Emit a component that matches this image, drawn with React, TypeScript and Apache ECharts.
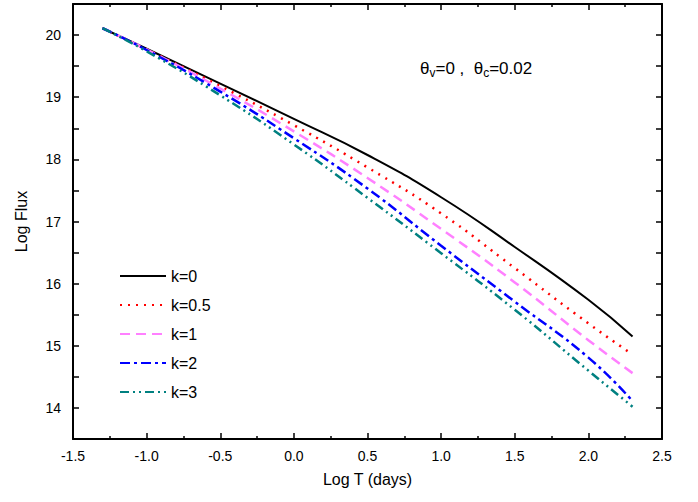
import { useEffect, useRef } from "react";
import * as echarts from "echarts";

const logT = [-1.3, -1.0, -0.5, 0.0, 0.5, 1.0, 1.5, 2.0, 2.3];
const fluxK0 = [20.11, 19.78, 19.22, 18.65, 18.07, 17.39, 16.59, 15.74, 15.15];
const fluxK05 = [20.11, 19.77, 19.18, 18.55, 17.87, 17.13, 16.25, 15.36, 14.86];
const fluxK1 = [20.11, 19.77, 19.14, 18.45, 17.70, 16.88, 16.02, 15.09, 14.56];
const fluxK2 = [20.11, 19.76, 19.09, 18.34, 17.53, 16.61, 15.71, 14.81, 14.11];
const fluxK3 = [20.11, 19.74, 19.03, 18.24, 17.38, 16.49, 15.58, 14.60, 14.02];

const names = ["k=0", "k=0.5", "k=1", "k=2", "k=3"];
const colors = ["#000000", "#ff0000", "#ff80ff", "#0000ff", "#008080"];
const dashes: (string | number[])[] = ["solid", [2, 6], [10, 6], [10, 4, 3, 4], [9, 4, 2, 4, 2, 4]];
const allFlux = [fluxK0, fluxK05, fluxK1, fluxK2, fluxK3];

export default function App() {
  const ref = useRef<HTMLDivElement>(null);
  useEffect(() => {
    if (!ref.current) return;
    document.body.style.margin = "0";
    const chart = echarts.init(ref.current, null, { renderer: "svg" });
    const font = "Arial, 'Liberation Sans', sans-serif";
    const axisBase = {
      axisLine: { onZero: false, lineStyle: { color: "#000", width: 2 } },
      axisTick: { inside: true, length: 6, lineStyle: { color: "#000", width: 1.5 } },
      splitLine: { show: false },
    };
    const xMinor = { show: true, splitNumber: 2, length: 3, lineStyle: { color: "#000", width: 1.5 } };
    chart.setOption({
      animation: false,
      grid: { left: 73, right: 36, top: 4, bottom: 63 },
      xAxis: [
        {
          ...axisBase, type: "value", min: -1.5, max: 2.5, interval: 0.5, minorTick: xMinor,
          axisLabel: { color: "#000", fontSize: 14, fontFamily: font, margin: 10, formatter: (v: number) => v.toFixed(1) },
          name: "Log T (days)", nameLocation: "middle", nameGap: 32,
          nameTextStyle: { color: "#000", fontSize: 16, fontFamily: font },
        },
        { ...axisBase, type: "value", position: "top", min: -1.5, max: 2.5, interval: 0.5, minorTick: xMinor, axisLabel: { show: false } },
      ],
      yAxis: [
        {
          ...axisBase, type: "value", min: 13.5, max: 20.5, interval: 0.5,
          axisLabel: {
            color: "#000", fontSize: 14, fontFamily: font, margin: 12,
            formatter: (v: number) => (Math.abs(v - Math.round(v)) < 1e-6 ? String(Math.round(v)) : ""),
          },
          name: "Log Flux", nameLocation: "middle", nameGap: 44,
          nameTextStyle: { color: "#000", fontSize: 16, fontFamily: font },
        },
        { ...axisBase, type: "value", position: "right", min: 13.5, max: 20.5, interval: 0.5, axisLabel: { show: false } },
      ],
      legend: {
        orient: "vertical", left: 114, top: 263, itemWidth: 46, itemHeight: 14, itemGap: 13,
        itemStyle: { opacity: 0 },
        textStyle: { color: "#000", fontSize: 16, fontFamily: font },
        data: names,
      },
      graphic: [
        {
          type: "text", left: 420, top: 60,
          style: {
            text: "{a|θ}{s|v}{a|=0 ,  θ}{s|c}{a|=0.02}",
            rich: {
              a: { fontSize: 17, fontFamily: font, fill: "#000" },
              s: { fontSize: 12, fontFamily: font, fill: "#000", verticalAlign: "bottom", padding: [9, 0, 0, 0] },
            },
          },
        },
      ],
      series: names.map((n, i) => ({
        name: n, type: "line", smooth: true, symbol: "none",
        data: logT.map((t, j) => [t, allFlux[i][j]]),
        lineStyle: { color: colors[i], width: i === 0 ? 2 : 2.5, type: dashes[i] },
        itemStyle: { color: colors[i] },
      })),
    });
    return () => chart.dispose();
  }, []);
  return <div ref={ref} style={{ width: 698, height: 502 }} />;
}
